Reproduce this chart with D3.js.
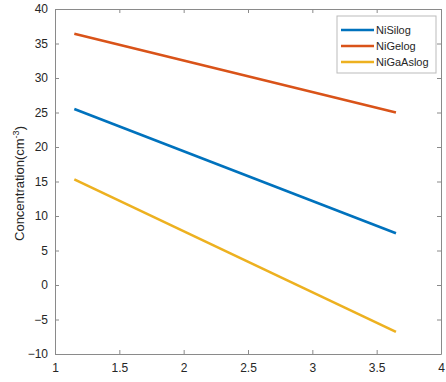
<!DOCTYPE html>
<html><head><meta charset="utf-8">
<script src="https://cdn.jsdelivr.net/npm/d3@7"></script>
<style>body{margin:0;background:#fff}svg{display:block}text{font-family:"Liberation Sans",Arial,sans-serif}</style>
</head><body>
<script>
const seriesNames = ["NiSilog", "NiGelog", "NiGaAslog"];
const xValues = [1.15, 3.65];
const niSi = [25.5, 7.5];
const niGe = [36.4, 25.0];
const niGaAs = [15.3, -6.8];
const colors = ["#0072BD", "#D95319", "#EDB120"];
const xTicks = [1, 1.5, 2, 2.5, 3, 3.5, 4];
const yTicks = [-10, -5, 0, 5, 10, 15, 20, 25, 30, 35, 40];

const W = 446, H = 382;
const m = {l: 55, r: 5, t: 9, b: 28};
const svg = d3.select("body").append("svg").attr("width", W).attr("height", H);
const x = d3.scaleLinear().domain([1, 4]).range([m.l, W - m.r]);
const y = d3.scaleLinear().domain([-10, 40]).range([H - m.b, m.t]);
const axisCol = "#8a8a8a", textCol = "#262626";

const g = svg.append("g");
// bottom axis
const bx = g.append("g").attr("transform", `translate(0,${H - m.b})`)
  .call(d3.axisBottom(x).tickValues(xTicks).tickFormat(d3.format("")).tickSizeInner(-4).tickSizeOuter(0).tickPadding(9));
const tx = g.append("g").attr("transform", `translate(0,${m.t})`)
  .call(d3.axisTop(x).tickValues(xTicks).tickFormat("").tickSizeInner(-4).tickSizeOuter(0));
const ly = g.append("g").attr("transform", `translate(${m.l},0)`)
  .call(d3.axisLeft(y).tickValues(yTicks).tickFormat(d3.format("")).tickSizeInner(-4).tickSizeOuter(0).tickPadding(7));
const ry = g.append("g").attr("transform", `translate(${W - m.r},0)`)
  .call(d3.axisRight(y).tickValues(yTicks).tickFormat("").tickSizeInner(-4).tickSizeOuter(0));
[bx, tx, ly, ry].forEach(a => {
  a.selectAll("path,line").attr("stroke", axisCol).attr("stroke-width", 1);
  a.selectAll("text").attr("fill", textCol).style("font-size", "12px");
});

// y label
svg.append("text").attr("transform", `translate(24,${(m.t + H - m.b) / 2 + 2}) rotate(-90)`)
  .attr("text-anchor", "middle").attr("fill", textCol).style("font-size", "13px")
  .html('Concentration(cm<tspan dy="-5" font-size="9px">-3</tspan><tspan dy="5">)</tspan>');

// lines
const data = [niSi, niGe, niGaAs];
const line = d3.line().x((d, i) => x(xValues[i])).y(d => y(d));
data.forEach((s, k) => {
  svg.append("path").datum(s).attr("d", line).attr("fill", "none")
    .attr("stroke", colors[k]).attr("stroke-width", 2.6);
});

// legend
const lg = svg.append("g").attr("transform", "translate(337,16)");
lg.append("rect").attr("width", 99).attr("height", 57).attr("fill", "#fff").attr("stroke", "#bbb").attr("stroke-width", 1);
seriesNames.forEach((n, k) => {
  const yy = 14 + k * 16;
  lg.append("line").attr("x1", 4).attr("x2", 37).attr("y1", yy).attr("y2", yy)
    .attr("stroke", colors[k]).attr("stroke-width", 2.6);
  lg.append("text").attr("x", 39).attr("y", yy + 4).attr("fill", textCol).style("font-size", "11px").text(n);
});
</script>
</body></html>
